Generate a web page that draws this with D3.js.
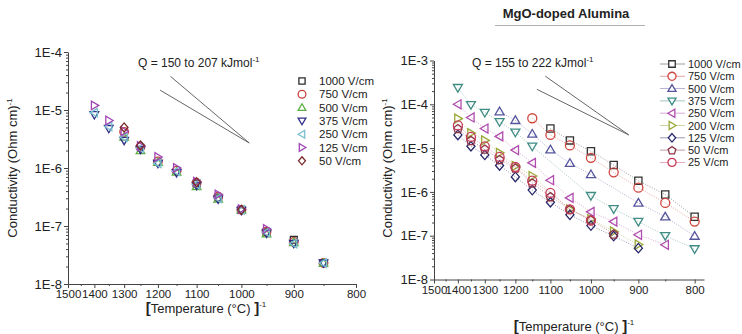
<!DOCTYPE html>
<html>
<head>
<meta charset="utf-8">
<script src="https://cdn.jsdelivr.net/npm/d3@7"></script>
<style>
  html, body { margin: 0; padding: 0; background: #fff; }
  svg { display: block; font-family: "Liberation Sans", Arial, sans-serif; }
  .tick text { fill: #222; }
</style>
</head>
<body>
<div id="chart"></div>
<script>
// ---- data (temperatures in °C, conductivity in (Ohm cm)^-1) ----
const tempsLeft = [1400, 1350, 1300, 1250, 1200, 1150, 1100, 1050, 1000, 950, 900, 850];
const tempsRight = [1400, 1350, 1300, 1250, 1200, 1150, 1100, 1050, 1000, 950, 900, 850, 800];
const xTickTemps = [1500, 1400, 1300, 1200, 1100, 1000, 900, 800];
const xMinorTemps = [1450, 1350, 1250, 1150, 1050, 950, 850];

const leftNames = ["1000 V/cm", "750 V/cm", "500 V/cm", "375 V/cm", "250 V/cm", "125 V/cm", "50 V/cm"];
const L1000 = [null, null, null, null, null, null, 5.4e-7, 3.1e-7, 1.9e-7, 7.8e-8, 5.8e-8, 2.3e-8];
const L750  = [null, null, 4.2e-6, 2.3e-6, 1.3e-6, 9.0e-7, 5.5e-7, 3.2e-7, 1.9e-7, 8.0e-8, 5.3e-8, 2.3e-8];
const L500  = [null, null, 3.4e-6, 2.0e-6, 1.25e-6, 8.5e-7, 4.8e-7, 2.9e-7, 1.9e-7, 7.3e-8, 5.2e-8, 2.3e-8];
const L375  = [8.3e-6, 4.8e-6, 3.0e-6, 2.1e-6, 1.2e-6, 8.3e-7, 5.0e-7, 2.9e-7, 1.85e-7, 7.5e-8, 5.0e-8, 2.3e-8];
const L250  = [9.0e-6, 5.2e-6, 3.4e-6, 2.2e-6, 1.2e-6, 8.8e-7, 5.2e-7, 3.0e-7, 1.9e-7, 7.8e-8, 5.0e-8, 2.3e-8];
const L125  = [1.2e-5, 6.6e-6, 4.3e-6, 2.4e-6, 1.55e-6, 1.0e-6, 5.8e-7, 3.5e-7, 1.95e-7, 8.9e-8, null, null];
const L50   = [null, null, 5.0e-6, 2.45e-6, null, null, 5.7e-7, null, 1.9e-7, null, null, null];

const rightNames = ["1000 V/cm", "750 V/cm", "500 V/cm", "375 V/cm", "250 V/cm", "200 V/cm", "125 V/cm", "50 V/cm", "25 V/cm"];
const R1000 = [null, null, null, null, null, null, 2.8e-5, 1.5e-5, 8.5e-6, 4.1e-6, 1.8e-6, 8.7e-7, 2.7e-7];
const R750  = [null, null, null, null, null, 4.8e-5, 2.0e-5, 1.15e-5, 6.0e-6, 2.8e-6, 1.25e-6, 5.6e-7, 2.1e-7];
const R500  = [null, null, null, 6.8e-5, 4.3e-5, 2.1e-5, 9.2e-6, 4.5e-6, 2.5e-6, null, 5.6e-7, 2.7e-7, 9.8e-8];
const R375  = [2.4e-4, 9.8e-5, 6.5e-5, 4.0e-5, 2.3e-5, 1.1e-5, null, null, 8.2e-7, 4.1e-7, 2.1e-7, 1.0e-7, 5.0e-8];
const R250  = [1.0e-4, 5.0e-5, 2.8e-5, 1.85e-5, 9.0e-6, 4.6e-6, 1.85e-6, 7.3e-7, 3.5e-7, 2.1e-7, 1.05e-7, 6.2e-8, null];
const R200  = [4.7e-5, 2.2e-5, 1.5e-5, 7.8e-6, 3.9e-6, 2.3e-6, null, 4.0e-7, 2.4e-7, 1.25e-7, 6.3e-8, null, null];
const R125  = [2.0e-5, 1.1e-5, 7.0e-6, 4.0e-6, 2.2e-6, 1.1e-6, 5.8e-7, 3.0e-7, 1.7e-7, 9.8e-8, 5.2e-8, null, null];
const R50   = [2.8e-5, 1.5e-5, 9.5e-6, 5.5e-6, 3.5e-6, 1.6e-6, 7.8e-7, 4.0e-7, 2.3e-7, 1.1e-7, null, null, null];
const R25   = [3.3e-5, 1.8e-5, 1.1e-5, 6.3e-6, 3.7e-6, 1.8e-6, 9.5e-7, 4.0e-7, 2.2e-7, null, null, null, null];

// slope guide lines: [T1, sigma1, T2, sigma2]
const slopeLeft = [[1166, 3.8e-5, 984, 2.7e-6], [1194, 2.2e-5, 984, 2.7e-6]];
const slopeRight = [[1114, 4.4e-4, 919, 2.0e-5], [1137, 2.2e-4, 919, 2.0e-5]];

// ---- styles ----
const leftShapes = ["square", "circle", "up", "down", "left", "right", "diamond"];
const leftColors = ["#2b2b2b", "#c8413f", "#5fae45", "#2e2e86", "#7cc0d0", "#a046b4", "#7a2a2a"];
const rightShapes = ["square", "circle", "up", "down", "left", "right", "diamond", "pentagon", "circle"];
const rightColors = ["#333333", "#d0463f", "#55559e", "#3f8c84", "#b04cae", "#9aa838", "#262668", "#8a3446", "#c83a5a"];

const inv = t => 1 / (t + 273.15);

const svg = d3.select("#chart").append("svg")
  .attr("width", 742).attr("height", 334);

function shapePath(type, r) {
  const poly = pts => "M" + pts.map(p => p[0].toFixed(2) + "," + p[1].toFixed(2)).join("L") + "Z";
  switch (type) {
    case "square": { const s = r * 0.8; return poly([[-s, -s], [s, -s], [s, s], [-s, s]]); }
    case "circle": return `M${r},0A${r},${r} 0 1,1 ${-r},0A${r},${r} 0 1,1 ${r},0Z`;
    case "up": return poly([[0, -r], [r, r * 0.7], [-r, r * 0.7]]);
    case "down": return poly([[0, r], [r, -r * 0.7], [-r, -r * 0.7]]);
    case "left": return poly([[-r, 0], [r * 0.7, -r], [r * 0.7, r]]);
    case "right": return poly([[r, 0], [-r * 0.7, -r], [-r * 0.7, r]]);
    case "diamond": return poly([[0, -r * 1.05], [r * 0.9, 0], [0, r * 1.05], [-r * 0.9, 0]]);
    case "pentagon": return poly(d3.range(5).map(k => {
      const a = -Math.PI / 2 + k * 2 * Math.PI / 5;
      return [r * Math.cos(a), r * Math.sin(a) + 0.5];
    }));
  }
}

function sup(sel, base, s, size) {
  sel.append("tspan").text(base);
  sel.append("tspan").text(s).attr("font-size", size).attr("dy", -5);
}

function drawPanel(p) {
  const g = svg.append("g");
  const x = d3.scaleLinear().domain([inv(1500), inv(p.tEnd)]).range(p.xr);
  const y = d3.scaleLog().domain([1e-8, p.yTop]).range(p.yr);

  const decades = d3.range(-8, Math.round(Math.log10(p.yTop)) + 1).map(e => Math.pow(10, e));
  const yMinor = [];
  decades.slice(0, -1).forEach(d => { for (let k = 2; k <= 9; k++) yMinor.push(d * k); });

  // x axis
  const xa = g.append("g").attr("transform", `translate(0,${p.yr[0]})`)
    .call(d3.axisBottom(x).tickValues(xTickTemps.map(inv))
      .tickFormat(v => Math.round(1 / v - 273.15)).tickSize(4).tickSizeOuter(0).tickPadding(2));
  xa.selectAll("text").attr("font-size", 11.5).attr("font-family", "Liberation Sans, Arial, sans-serif");
  g.append("g").attr("transform", `translate(0,${p.yr[0]})`)
    .call(d3.axisBottom(x).tickValues(xMinorTemps.map(inv)).tickFormat("").tickSize(2))
    .call(s => s.select(".domain").remove());

  // y axis
  const ya = g.append("g").attr("transform", `translate(${p.xr[0]},0)`)
    .call(d3.axisLeft(y).tickValues(decades)
      .tickFormat(d => "1E" + Math.round(Math.log10(d))).tickSize(4).tickSizeOuter(0).tickPadding(2));
  ya.selectAll("text").attr("font-size", 13).attr("font-family", "Liberation Sans, Arial, sans-serif");
  g.append("g").attr("transform", `translate(${p.xr[0]},0)`)
    .call(d3.axisLeft(y).tickValues(yMinor).tickFormat("").tickSize(2))
    .call(s => s.select(".domain").remove());
  g.selectAll(".domain, .tick line").attr("stroke", "#444");

  // slope guide lines
  p.slopes.forEach(s => {
    g.append("line")
      .attr("x1", x(inv(s[0]))).attr("y1", y(s[1]))
      .attr("x2", x(inv(s[2]))).attr("y2", y(s[3]))
      .attr("stroke", "#555").attr("stroke-width", 0.9);
  });
  const q = g.append("text").attr("x", p.qPos[0]).attr("y", p.qPos[1])
    .attr("font-size", 12).attr("fill", "#222");
  sup(q, p.qText, "-1", 8);

  // series
  p.series.forEach((vals, i) => {
    const pts = p.temps.map((t, j) => ({ t, v: vals[j] })).filter(d => d.v != null);
    if (p.lines) {
      g.append("path").datum(pts)
        .attr("fill", "none").attr("stroke", p.colors[i]).attr("stroke-width", 0.8)
        .attr("stroke-dasharray", "1,1.5").attr("opacity", 0.6)
        .attr("d", d3.line().x(d => x(inv(d.t))).y(d => y(d.v)));
    }
    g.selectAll(null).data(pts).enter().append("path")
      .attr("transform", d => `translate(${x(inv(d.t))},${y(d.v)})`)
      .attr("d", shapePath(p.shapes[i], p.r))
      .attr("fill", "none").attr("stroke", p.colors[i]).attr("stroke-width", 1.3);
  });

  // legend
  p.names.forEach((n, i) => {
    const ly = p.leg[1] + i * p.leg[2];
    if (p.lines) {
      g.append("line").attr("x1", p.leg[0] - 12).attr("x2", p.leg[0] + 13)
        .attr("y1", ly).attr("y2", ly).attr("stroke", p.colors[i]).attr("stroke-width", 0.8).attr("opacity", 0.6);
    }
    g.append("path").attr("transform", `translate(${p.leg[0]},${ly})`)
      .attr("d", shapePath(p.shapes[i], p.r * 0.9)).attr("fill", "#fff")
      .attr("stroke", p.colors[i]).attr("stroke-width", 1.3);
    g.append("text").attr("x", p.leg[0] + p.leg[3]).attr("y", ly + 4)
      .attr("font-size", p.legFont).attr("fill", "#222").text(n);
  });

  // axis titles
  const yt = g.append("text")
    .attr("transform", `translate(${p.yTitle[0]},${p.yTitle[1]}) rotate(-90)`)
    .attr("text-anchor", "middle").attr("font-size", 13).attr("fill", "#222");
  sup(yt, "Conductivity (Ohm cm)", "-1", 8);
  const xt = g.append("text").attr("x", p.xTitle[0]).attr("y", p.xTitle[1])
    .attr("text-anchor", "middle").attr("font-size", 13).attr("fill", "#222");
  xt.append("tspan").text("[").attr("font-weight", "bold").attr("font-size", 15);
  xt.append("tspan").text("Temperature (°C) ");
  xt.append("tspan").text("]").attr("font-weight", "bold").attr("font-size", 15);
  xt.append("tspan").text("-1").attr("font-size", 8).attr("dy", -6);
}

drawPanel({
  xr: [68, 356], yr: [284, 52], tEnd: 800, yTop: 1e-4,
  temps: tempsLeft, series: [L1000, L750, L500, L375, L250, L125, L50],
  names: leftNames, shapes: leftShapes, colors: leftColors, r: 4.3, lines: false,
  slopes: slopeLeft, qText: "Q = 150 to 207 kJmol", qPos: [138, 67],
  leg: [302, 81, 13.3, 17], legFont: 11.5,
  yTitle: [17, 168], xTitle: [206, 313]
});

drawPanel({
  xr: [434, 704], yr: [279.5, 60.5], tEnd: 785, yTop: 1e-3,
  temps: tempsRight, series: [R1000, R750, R500, R375, R250, R200, R125, R50, R25],
  names: rightNames, shapes: rightShapes, colors: rightColors, r: 4.5, lines: true,
  slopes: slopeRight, qText: "Q = 155 to 222 kJmol", qPos: [472, 67],
  leg: [672, 64, 12.3, 16], legFont: 11,
  yTitle: [392, 168], xTitle: [574, 331]
});

// panel title
svg.append("text").attr("x", 566).attr("y", 18).attr("text-anchor", "middle")
  .attr("font-size", 13).attr("font-weight", "bold").attr("fill", "#222").text("MgO-doped Alumina");
svg.append("line").attr("x1", 495).attr("x2", 645).attr("y1", 25.5).attr("y2", 25.5)
  .attr("stroke", "#b0b0b0").attr("stroke-width", 1);
</script>
</body>
</html>
